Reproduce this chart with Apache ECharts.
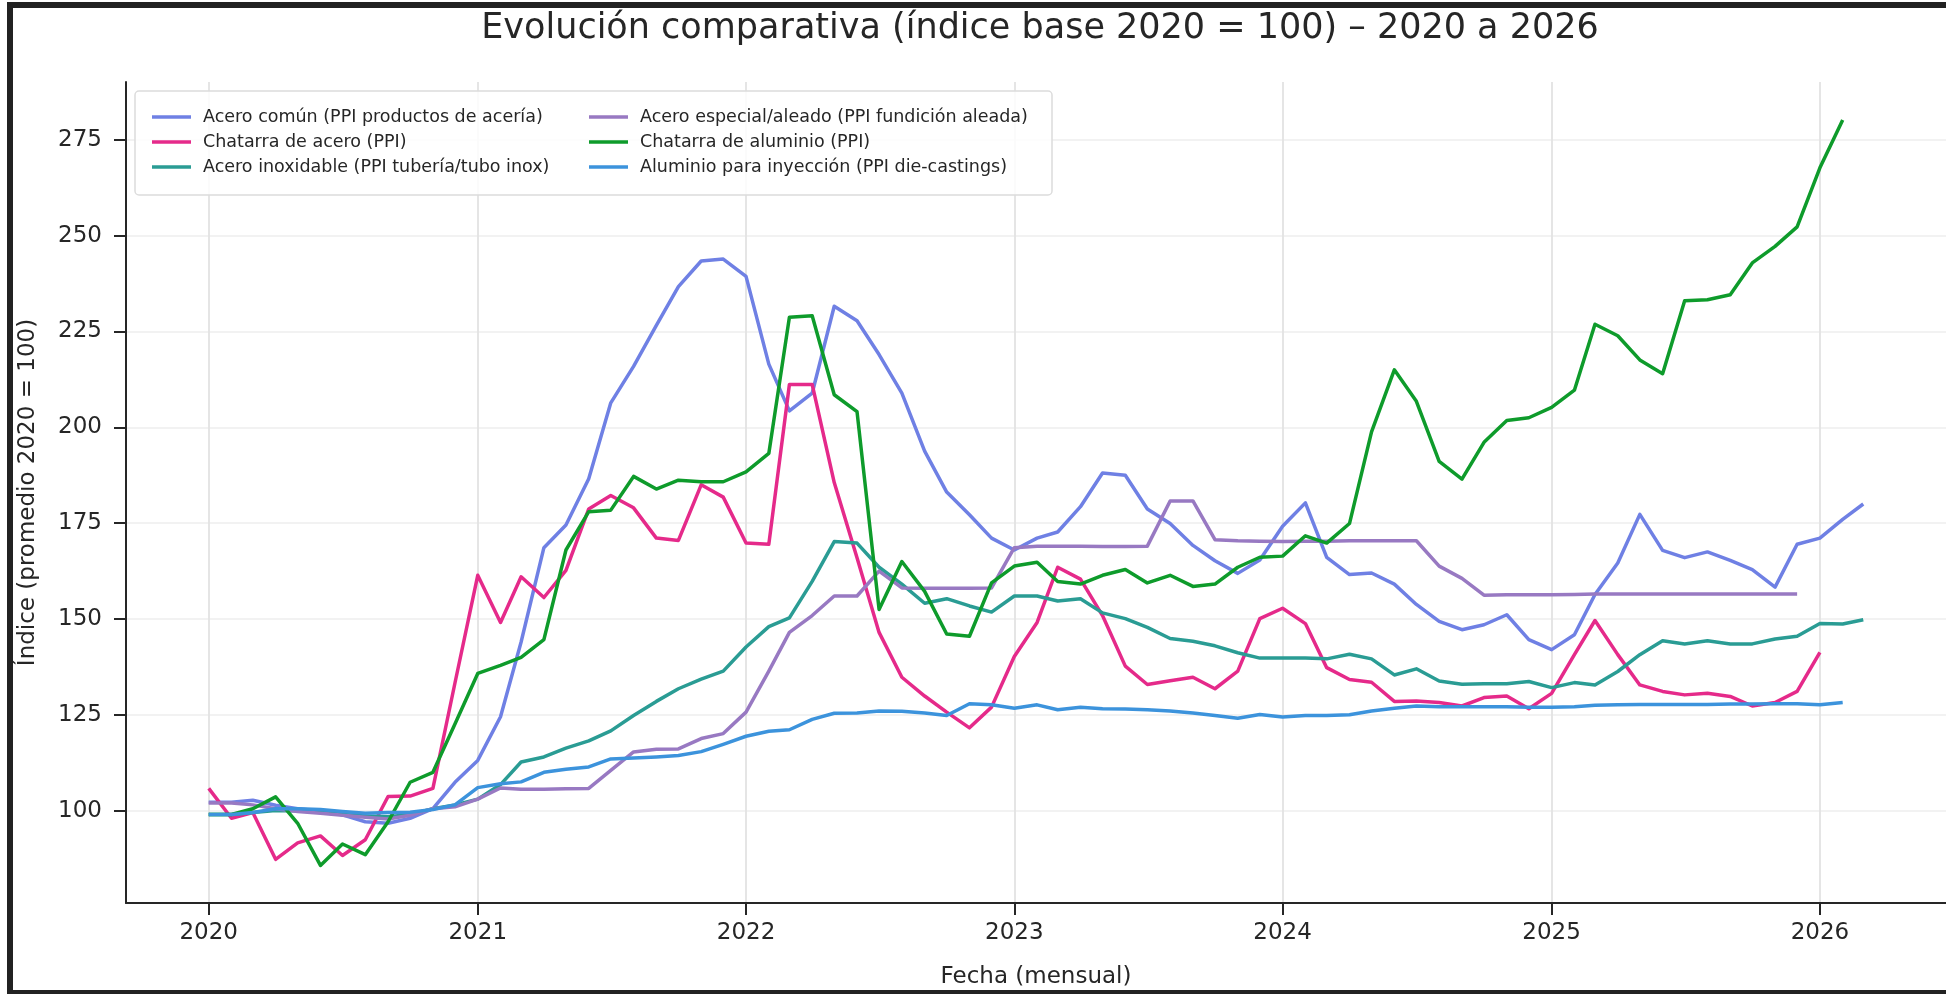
<!DOCTYPE html>
<html>
<head>
<meta charset="utf-8">
<script src="https://cdn.jsdelivr.net/npm/echarts@6/dist/echarts.min.js"></script>
<style>
html,body{margin:0;padding:0;background:#ffffff;}
#chart{width:1946px;height:994px;}
</style>
</head>
<body>
<div id="chart"></div>
<script>
// ---------- Data ----------
const firstMonth = '2020-01';
const monthCount = 75; // 2020-01 .. 2026-03
const months = [];
(function () {
  let y = 2020, m = 1;
  for (let i = 0; i < monthCount; i++) {
    months.push(y + '-' + String(m).padStart(2, '0'));
    m++; if (m > 12) { m = 1; y++; }
  }
})();

const yearTickLabels = ['2020', '2021', '2022', '2023', '2024', '2025', '2026'];
const yTickValues = [100, 125, 150, 175, 200, 225, 250, 275];

const seriesNames = [
  'Acero común (PPI productos de acería)',
  'Chatarra de acero (PPI)',
  'Acero inoxidable (PPI tubería/tubo inox)',
  'Acero especial/aleado (PPI fundición aleada)',
  'Chatarra de aluminio (PPI)',
  'Aluminio para inyección (PPI die-castings)'
];
const seriesColors = ['#6f80e4', '#e52a8a', '#2a9c94', '#9879c2', '#0e9b2b', '#3c93dc'];

const aceroComun = [
  102.2, 102.2, 102.7, 101.4, 100.5, 99.9, 98.9, 97.1, 96.7, 98.0, 100.5, 107.4,
  113.1, 124.5, 144.0, 168.6, 174.5, 186.6, 206.4, 215.9, 226.6, 236.7, 243.4, 243.9,
  239.4, 216.5, 204.3, 208.9, 231.6, 227.8, 219.0, 208.9, 193.8, 183.1, 177.2, 171.1,
  168.0, 171.1, 172.7, 179.3, 188.1, 187.5, 178.7, 174.9, 169.2, 165.2, 161.9, 165.4,
  174.2, 180.3, 166.1, 161.6, 162.0, 159.1, 153.8, 149.4, 147.2, 148.5, 151.1, 144.6,
  142.0, 145.9, 156.4, 164.6, 177.3, 167.9, 166.0, 167.5, 165.3, 162.9, 158.3, 169.5,
  171.1, 176.0, 180.0
];
const chatarraAcero = [
  105.8, 98.0, 99.5, 87.3, 91.6, 93.4, 88.3, 92.4, 103.7, 103.8, 105.8, 133.3,
  161.4, 149.1, 161.0, 155.6, 162.7, 178.7, 182.2, 179.0, 171.1, 170.5, 185.0, 181.8,
  169.8, 169.5, 211.2, 211.2, 185.6, 166.0, 146.5, 134.8, 129.9, 125.7, 121.6, 127.0,
  140.2, 149.1, 163.5, 160.4, 150.9, 137.7, 132.9, 133.9, 134.8, 131.8, 136.4, 150.1,
  152.8, 148.8, 137.3, 134.2, 133.5, 128.5, 128.6, 128.2, 127.3, 129.5, 129.9, 126.6,
  130.6, 140.7, 149.6, 140.7, 132.8, 131.1, 130.2, 130.6, 129.8, 127.3, 128.2, 131.1,
  141.3
];
const aceroInox = [
  99.0, 99.0, 99.5, 100.0, 100.0, 99.5, 99.0, 98.6, 98.4, 99.0, 100.5, 101.5,
  103.0, 106.8, 112.7, 114.0, 116.3, 118.2, 120.8, 124.8, 128.5, 131.8, 134.3, 136.4,
  142.7, 148.0, 150.3, 159.8, 170.2, 169.8, 163.5, 159.1, 154.1, 155.3, 153.4, 151.8,
  156.0, 156.0, 154.7, 155.3, 151.6, 150.1, 147.8, 144.9, 144.2, 143.0, 141.2, 139.8,
  139.8, 139.8, 139.6, 140.8, 139.6, 135.4, 137.0, 133.8, 133.0, 133.1, 133.1, 133.7,
  132.1, 133.4, 132.8, 136.3, 140.7, 144.3, 143.5, 144.3, 143.5, 143.5, 144.8, 145.5,
  148.8, 148.7, 149.8
];
const aceroEspecial = [
  102.0, 102.0, 101.5, 100.5, 99.8, 99.3, 98.8, 98.3, 97.8, 98.8, 100.5, 101.0,
  103.0, 105.9, 105.6, 105.6, 105.7, 105.8, 110.5, 115.3, 116.0, 116.1, 118.8, 120.1,
  125.7, 136.4, 146.5, 150.9, 156.0, 156.0, 162.5, 158.1, 158.0, 158.0, 158.0, 158.1,
  168.6, 169.0, 169.0, 169.0, 168.9, 168.9, 169.0, 180.8, 180.8, 170.7, 170.4, 170.3,
  170.2, 170.3, 170.3, 170.4, 170.4, 170.4, 170.4, 163.8, 160.6, 156.2, 156.3, 156.3,
  156.3, 156.4, 156.5, 156.5, 156.5, 156.5, 156.5, 156.5, 156.5, 156.5, 156.5, 156.5
];
const chatarraAluminio = [
  99.0, 99.0, 100.5, 103.6, 96.7, 85.7, 91.3, 88.5, 97.1, 107.4, 110.0, 122.6,
  135.8, 137.9, 140.0, 144.6, 168.0, 178.0, 178.4, 187.2, 183.9, 186.2, 185.8, 185.8,
  188.4, 193.2, 228.7, 229.1, 208.5, 204.1, 152.5, 165.0, 157.2, 146.1, 145.5, 159.4,
  163.8, 164.8, 159.8, 159.1, 161.4, 162.9, 159.4, 161.4, 158.5, 159.1, 163.5, 166.1,
  166.4, 171.7, 169.8, 174.9, 198.8, 215.0, 206.8, 191.1, 186.5, 196.1, 201.8, 202.5,
  205.2, 209.7, 226.9, 223.9, 217.6, 214.0, 233.0, 233.3, 234.6, 242.9, 247.2, 252.3,
  267.7, 280.2
];
const aluminioInyeccion = [
  99.0, 99.0, 99.5, 100.5, 100.5, 100.3, 99.8, 99.3, 99.5, 99.6, 100.3, 101.5,
  106.0, 107.0, 107.5, 110.0, 110.8, 111.4, 113.5, 113.7, 114.0, 114.4, 115.4, 117.3,
  119.4, 120.7, 121.1, 123.8, 125.4, 125.5, 126.0, 125.9, 125.5, 124.8, 127.9, 127.6,
  126.7, 127.6, 126.3, 127.0, 126.6, 126.5, 126.3, 126.0, 125.5, 124.8, 124.1, 125.1,
  124.4, 124.8, 124.8, 125.0, 126.0, 126.7, 127.3, 127.1, 127.1, 127.1, 127.1, 127.0,
  127.0, 127.1, 127.5, 127.6, 127.7, 127.7, 127.7, 127.7, 127.8, 127.8, 127.9, 127.9,
  127.6, 128.2
];

const seriesValues = [aceroComun, chatarraAcero, aceroInox, aceroEspecial, chatarraAluminio, aluminioInyeccion];

// ---------- Helpers ----------
const DAY = 86400000;
const origin = Date.UTC(2020, 0, 1);
function dayOffset(ym) {
  const p = ym.split('-').map(Number);
  return (Date.UTC(p[0], p[1] - 1, 1) - origin) / DAY;
}
const xTickValues = yearTickLabels.map(y => dayOffset(y + '-01'));
const span = dayOffset(months[months.length - 1]) - dayOffset(months[0]);
const xMin = dayOffset(months[0]) - 0.05 * span;
const xMax = dayOffset(months[months.length - 1]) + 0.05 * span;

const FONT = 'DejaVu Sans';
const INK = '#262626';

const chart = echarts.init(document.getElementById('chart'), null, { renderer: 'canvas' });

const series = seriesValues.map((vals, k) => ({
  name: seriesNames[k],
  type: 'line',
  data: vals.map((v, i) => [dayOffset(months[i]), v]),
  showSymbol: false,
  symbol: 'none',
  color: seriesColors[k],
  lineStyle: { width: 3.5, color: seriesColors[k], join: 'round' },
  emphasis: { disabled: true },
  z: 2 + k
}));

const legendCommon = {
  orient: 'vertical',
  top: 108,
  itemWidth: 39,
  itemHeight: 3.5,
  itemGap: 7,
  icon: 'rect',
  padding: 0,
  selectedMode: false,
  z: 10,
  textStyle: { fontFamily: FONT, fontSize: 17.5, color: INK, lineHeight: 18, padding: [0, 0, 0, 7] }
};

const option = {
  animation: false,
  backgroundColor: '#ffffff',
  grid: { left: 126, right: -8, top: 82, bottom: 88, containLabel: false },
  xAxis: {
    type: 'value',
    min: xMin,
    max: xMax,
    name: 'Fecha (mensual)',
    nameLocation: 'middle',
    nameGap: 63,
    nameTextStyle: { fontFamily: FONT, fontSize: 23, color: INK },
    axisLine: { show: true, onZero: false, lineStyle: { color: INK, width: 2 } },
    axisTick: { show: true, length: 12, lineStyle: { color: INK, width: 2 }, customValues: xTickValues },
    axisLabel: {
      customValues: xTickValues,
      fontFamily: FONT, fontSize: 23, color: INK, margin: 19,
      formatter: function (v) {
        const idx = xTickValues.indexOf(v);
        return idx >= 0 ? yearTickLabels[idx] : '';
      }
    },
    splitLine: { show: true, lineStyle: { color: '#e3e3e3', width: 1.8 } }
  },
  yAxis: {
    type: 'value',
    min: 75.9,
    max: 290.1,
    name: 'Índice (promedio 2020 = 100)',
    nameLocation: 'middle',
    nameGap: 86,
    nameTextStyle: { fontFamily: FONT, fontSize: 23, color: INK },
    axisLine: { show: true, onZero: false, lineStyle: { color: INK, width: 2 } },
    axisTick: { show: true, length: 12, lineStyle: { color: INK, width: 2 }, customValues: yTickValues },
    axisLabel: { customValues: yTickValues, fontFamily: FONT, fontSize: 23, color: INK, margin: 24 },
    splitLine: { show: true, lineStyle: { color: '#eeeeee', width: 1.6 } }
  },
  legend: [
    Object.assign({}, legendCommon, { left: 152, data: seriesNames.slice(0, 3) }),
    Object.assign({}, legendCommon, { left: 589, data: seriesNames.slice(3, 6) })
  ],
  graphic: [
    {
      type: 'rect', z: 1, silent: true,
      shape: { x: 10, y: 5, width: 1950, height: 988 },
      style: { fill: 'none', stroke: '#222222', lineWidth: 6 }
    },
    {
      type: 'rect', z: 5, silent: true,
      shape: { x: 135, y: 91, width: 917, height: 104, r: 4 },
      style: { fill: 'rgba(255,255,255,0.85)', stroke: '#dcdcdc', lineWidth: 1.5 }
    },
    {
      type: 'text', z: 10, silent: true,
      x: 1040, y: 29,
      style: {
        text: 'Evolución comparativa (índice base 2020 = 100) – 2020 a 2026',
        fontFamily: FONT, fontSize: 35, fill: INK,
        align: 'center', verticalAlign: 'middle'
      }
    }
  ],
  series: series
};

chart.setOption(option);
</script>
</body>
</html>
